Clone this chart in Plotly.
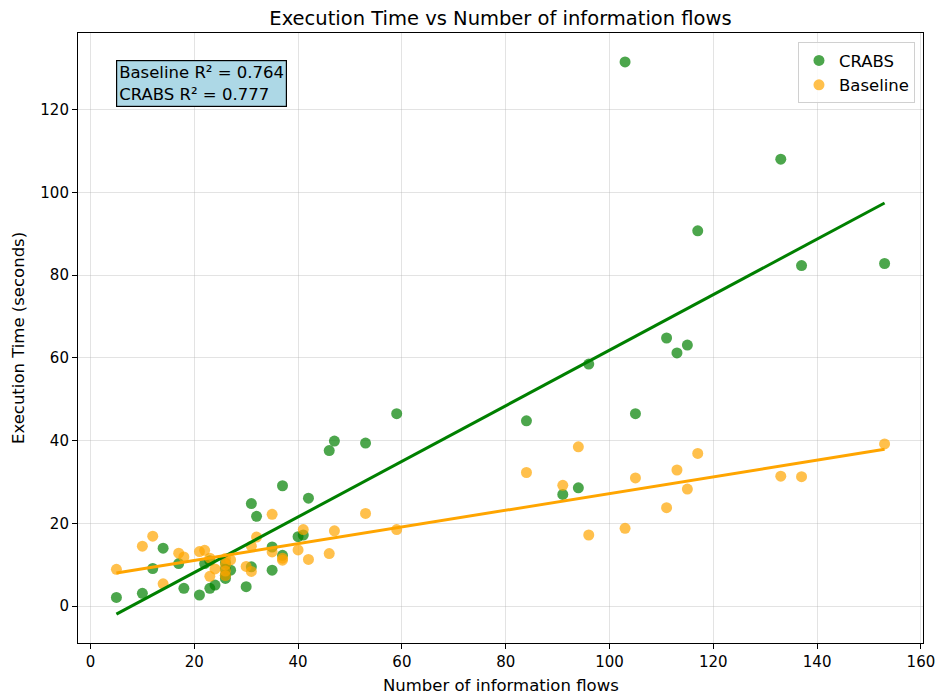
import numpy as np
import plotly.graph_objects as go

# Number of information flows (x) and execution times (seconds)
crabs_x = [5, 10, 12, 14, 17, 18, 21, 22, 23, 23, 24, 26, 26, 26, 26, 27, 30, 31, 31, 32,
           35, 35, 37, 37, 40, 41, 42, 46, 47, 53, 59, 84, 91, 94, 96, 103, 105, 111,
           113, 115, 117, 133, 137, 153]
crabs_y = [2.1, 3.1, 9.1, 14.0, 10.3, 4.3, 2.7, 10.3, 4.3, 11.0, 5.1, 6.7, 7.5, 9.0, 10.5,
           8.7, 4.7, 9.5, 24.8, 21.7, 14.3, 8.7, 29.1, 12.3, 16.8, 17.2, 26.1, 37.6, 39.9,
           39.4, 46.5, 44.8, 27.0, 28.6, 58.5, 131.5, 46.5, 64.8, 61.2, 63.1, 90.7, 108.0,
           82.3, 82.8]

base_x = [5, 10, 12, 14, 17, 18, 21, 22, 23, 23, 24, 26, 26, 26, 26, 27, 30, 31, 31, 32,
          35, 35, 37, 37, 40, 41, 42, 46, 47, 53, 59, 84, 91, 94, 96, 103, 105, 111,
          113, 115, 117, 133, 137, 153]
base_y = [8.9, 14.5, 16.9, 5.4, 12.8, 11.9, 13.2, 13.5, 11.6, 7.2, 9.0, 11.5, 10.0, 8.5, 7.4,
          11.2, 9.6, 8.4, 14.5, 16.7, 22.2, 13.1, 11.1, 11.6, 13.6, 18.5, 11.3, 12.7, 18.2,
          22.4, 18.5, 32.3, 29.2, 38.5, 17.2, 18.8, 31.0, 23.8, 32.9, 28.3, 36.9, 31.4,
          31.3, 39.2]

series_names = ["CRABS", "Baseline"]
r2_text = ["Baseline R² = 0.764", "CRABS R² = 0.777"]
x_ticks = [0, 20, 40, 60, 80, 100, 120, 140, 160]
y_ticks = [0, 20, 40, 60, 80, 100, 120]

fig = go.Figure()

green = "#008000"
orange = "#FFA500"

fig.add_trace(go.Scatter(x=crabs_x, y=crabs_y, mode="markers", name=series_names[0],
                         marker=dict(color=green, size=11, opacity=0.7, line=dict(width=0))))
fig.add_trace(go.Scatter(x=base_x, y=base_y, mode="markers", name=series_names[1],
                         marker=dict(color=orange, size=11, opacity=0.7, line=dict(width=0))))

for xs, ys, col in [(crabs_x, crabs_y, green), (base_x, base_y, orange)]:
    m, b = np.polyfit(xs, ys, 1)
    lx = np.array([min(xs), max(xs)])
    fig.add_trace(go.Scatter(x=lx, y=m * lx + b, mode="lines", showlegend=False,
                             line=dict(color=col, width=3), hoverinfo="skip"))

font = "DejaVu Sans, sans-serif"
grid = "rgba(176,176,176,0.35)"
fig.update_layout(
    width=941, height=696,
    margin=dict(l=78, r=18, t=33, b=53),
    paper_bgcolor="white", plot_bgcolor="white",
    font=dict(family=font, size=15, color="black"),
    title=dict(text="Execution Time vs Number of information flows", x=0.5, xref="paper",
               y=1 - 18 / 696, yref="container", yanchor="middle", xanchor="center",
               font=dict(size=19.5, family=font, color="black")),
    xaxis=dict(range=[-2.4, 160.4], tickvals=x_ticks, automargin=False,
               showgrid=True, gridcolor=grid, gridwidth=1,
               showline=True, linecolor="black", linewidth=1.1, mirror=True,
               ticks="outside", ticklen=5, tickcolor="black", zeroline=False,
               tickfont=dict(size=15, family=font)),
    yaxis=dict(range=[-8.9, 138.5], tickvals=y_ticks, automargin=False,
               showgrid=True, gridcolor=grid, gridwidth=1,
               showline=True, linecolor="black", linewidth=1.1, mirror=True,
               ticks="outside", ticklen=5, tickcolor="black", zeroline=False,
               tickfont=dict(size=15, family=font)),
    legend=dict(x=0.9905, y=0.985, xanchor="right", yanchor="top",
                bgcolor="rgba(255,255,255,0.8)", bordercolor="#d0d0d0", borderwidth=1,
                font=dict(size=16.5, family=font)),
    annotations=[
        dict(text="<br>".join(r2_text), xref="paper", yref="paper",
             x=0.045, y=0.956, xanchor="left", yanchor="top", align="left",
             showarrow=False, bgcolor="#ADD8E6", bordercolor="black",
             borderwidth=1.2, borderpad=2, font=dict(size=16.5, family=font)),
        dict(text="Number of information flows", xref="paper", yref="paper",
             x=0.5, y=-(685 - 643) / 610, xanchor="center", yanchor="middle",
             showarrow=False, font=dict(size=16.5, family=font)),
        dict(text="Execution Time (seconds)", xref="paper", yref="paper",
             x=-(78 - 18) / 845, y=0.5, xanchor="center", yanchor="middle",
             textangle=-90, showarrow=False, font=dict(size=16.5, family=font)),
    ],
)

fig.write_html("out.html", config={"displayModeBar": False},
               post_script="document.body.style.margin='0';document.body.style.overflow='hidden';")
